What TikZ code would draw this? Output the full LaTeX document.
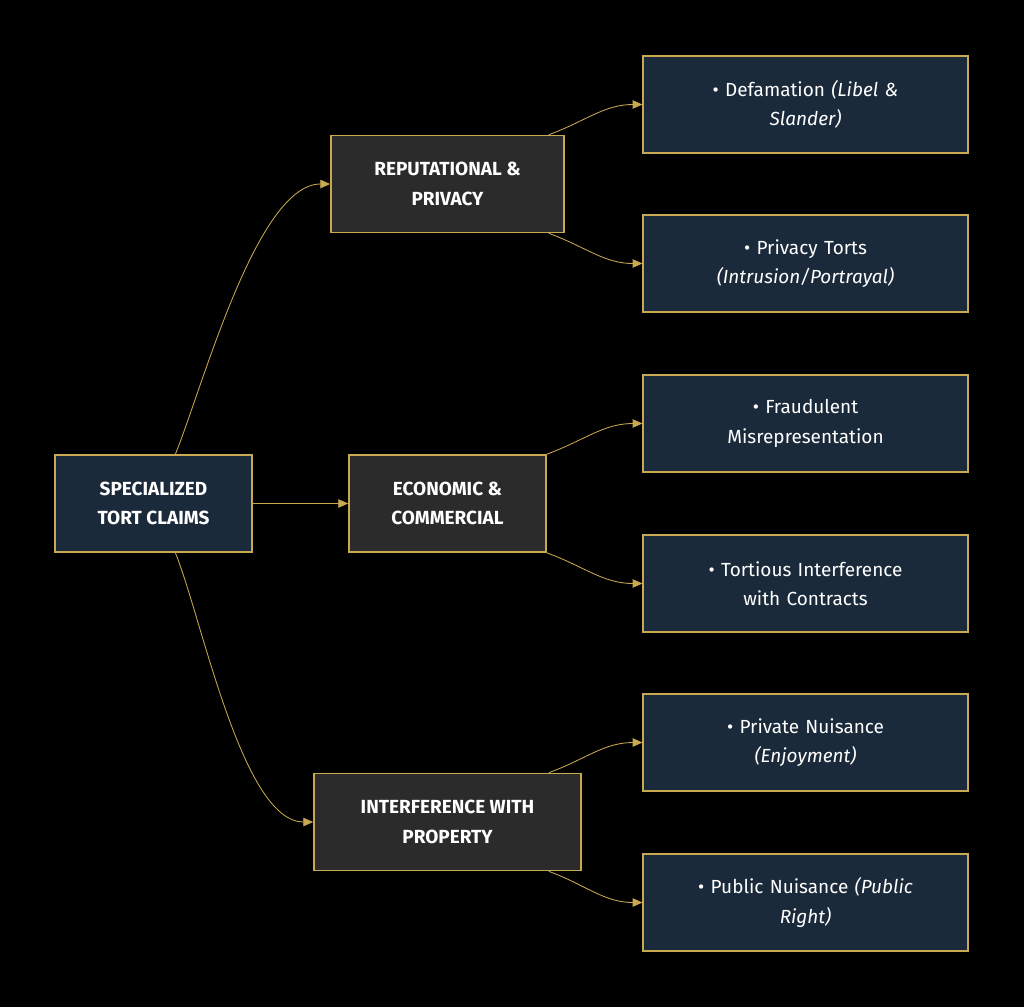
\documentclass[tikz,border=0pt]{standalone}
\usepackage{fontspec}
\setmainfont{Fira Sans}
\usetikzlibrary{arrows.meta}
\definecolor{gold}{HTML}{C8A951}
\definecolor{navy}{HTML}{1B2A3A}
\definecolor{coal}{HTML}{2B2B2B}
\tikzset{
  box/.style={draw=gold, text=white, align=center, minimum height=97*0.025cm,
    font=\fontsize{13.5}{21}\selectfont, inner sep=0pt},
  root/.style={box, fill=navy, line width=1.6pt, minimum width=197*0.025cm, font=\fontsize{13.5}{21}\selectfont\bfseries},
  cat/.style={box, fill=coal, line width=1.2pt, font=\fontsize{13.5}{21}\selectfont\bfseries},
  leaf/.style={box, fill=navy, line width=0.8pt, minimum width=325*0.025cm, text width=300*0.025cm},
  link/.style={draw=gold, line width=0.6pt, -{Triangle[length=7pt,width=6pt]}}
}
\begin{document}
\begin{tikzpicture}[x=0.025cm,y=-0.025cm]
\fill[black] (0,0) rectangle (1024,1007);
\useasboundingbox (0,0) rectangle (1024,1007);

\node[root] (tort) at (153.5,503.5) {SPECIALIZED\\TORT CLAIMS};

\node[cat, minimum width=233*0.025cm] (rep) at (447.5,184) {REPUTATIONAL \&\\PRIVACY};
\node[cat, minimum width=197*0.025cm] (eco) at (447.5,503.5) {ECONOMIC \&\\COMMERCIAL};
\node[cat, minimum width=267*0.025cm] (prop) at (447.5,822) {INTERFERENCE WITH\\PROPERTY};

\node[leaf] (defam) at (805.5,104.5) {• Defamation \textit{(Libel \&}\\\textit{Slander)}};
\node[leaf] (priv) at (805.5,263.5) {• Privacy Torts\\\textit{(Intrusion/Portrayal)}};
\node[leaf] (fraud) at (805.5,423.5) {• Fraudulent\\Misrepresentation};
\node[leaf] (inter) at (805.5,583.5) {• Tortious Interference\\with Contracts};
\node[leaf] (privn) at (805.5,742.5) {• Private Nuisance\\\textit{(Enjoyment)}};
\node[leaf] (pubn) at (805.5,902.5) {• Public Nuisance \textit{(Public}\\\textit{Right)}};

\path[link] ([xshift=22*0.025cm]tort.north) to[out=68,in=180,looseness=0.6] (rep.west);
\path[link] (tort.east) -- (eco.west);
\path[link] ([xshift=22*0.025cm]tort.south) to[out=-68,in=180,looseness=0.6] (prop.west);

\path[link] ([xshift=-16*0.025cm]rep.north east) to[out=20,in=180] (defam.west);
\path[link] ([xshift=-16*0.025cm]rep.south east) to[out=-20,in=180] (priv.west);
\path[link] (eco.north east) to[out=20,in=180] (fraud.west);
\path[link] (eco.south east) to[out=-20,in=180] (inter.west);
\path[link] ([xshift=-33*0.025cm]prop.north east) to[out=20,in=180] (privn.west);
\path[link] ([xshift=-33*0.025cm]prop.south east) to[out=-20,in=180] (pubn.west);
\end{tikzpicture}
\end{document}
